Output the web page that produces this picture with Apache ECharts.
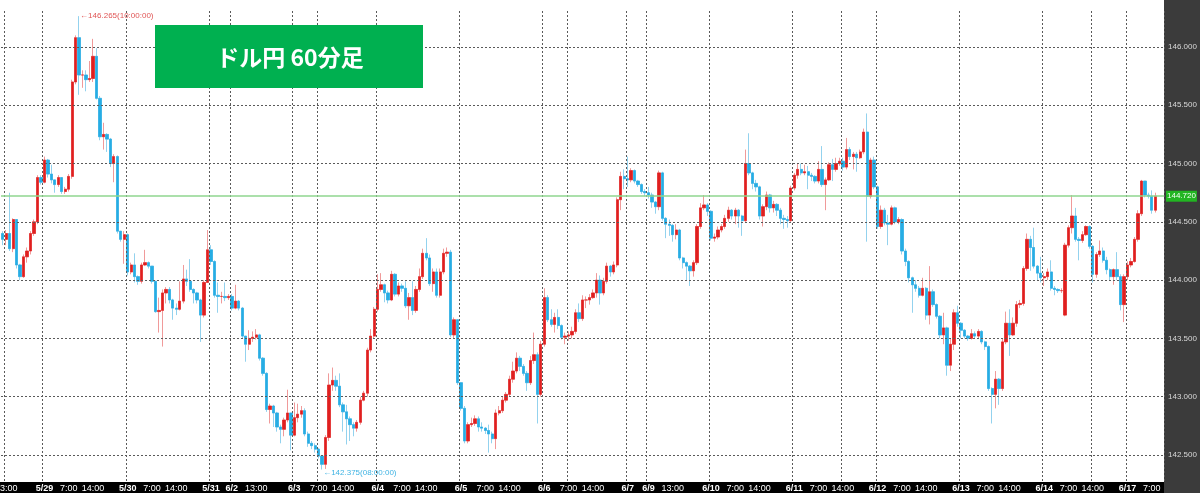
<!DOCTYPE html>
<html>
<head>
<meta charset="utf-8">
<style>html,body{margin:0;padding:0;background:#fff}#c{width:1200px;height:493px}</style>
<script src="https://cdn.jsdelivr.net/npm/echarts/dist/echarts.min.js"></script>
</head>
<body>
<div id="c"></div>
<script>
// ---- data (USD/JPY 60-minute candles) ----
const firstOpen = 144.40;
const openGaps = {306: 143.70};
const closes = [
144.35,144.40,144.27,144.52,144.13,144.03,144.20,144.25,144.40,144.50,144.88,144.84,
145.03,144.91,144.86,144.82,144.88,144.76,144.78,144.89,145.70,146.08,145.76,145.76,
145.72,145.73,145.92,145.56,145.23,145.25,145.21,145.00,145.06,144.42,144.35,144.39,
144.07,144.13,144.03,143.99,144.13,144.15,144.12,143.99,143.73,143.74,143.89,143.92,
143.83,143.76,143.75,143.82,144.01,143.99,143.92,143.89,143.83,143.70,143.98,144.26,
144.16,143.87,143.86,143.86,143.85,143.86,143.76,143.82,143.76,143.52,143.45,143.50,
143.51,143.53,143.33,143.20,142.89,142.92,142.86,142.74,142.72,142.80,142.86,142.67,
142.82,142.85,142.88,142.68,142.60,142.58,142.55,142.49,142.42,142.65,143.10,143.14,
143.09,142.93,142.87,142.81,142.76,142.73,142.78,142.97,143.03,143.40,143.52,143.75,
143.92,143.96,143.89,143.83,144.05,143.88,143.95,143.93,143.78,143.85,143.74,143.92,
144.03,144.23,144.19,143.97,144.07,143.87,144.07,144.23,144.24,143.53,143.66,143.12,
142.90,142.62,142.76,142.77,142.81,142.74,142.73,142.71,142.68,142.64,142.86,142.88,
142.97,143.02,143.15,143.22,143.33,143.26,143.20,143.12,143.31,143.36,143.02,143.45,
143.85,143.66,143.62,143.68,143.61,143.51,143.52,143.53,143.56,143.72,143.67,143.83,
143.83,143.85,143.89,144.00,143.89,143.99,144.12,144.07,144.13,144.69,144.89,144.87,
144.86,144.94,144.85,144.82,144.76,144.75,144.73,144.67,144.63,144.92,144.53,144.48,
144.47,144.39,144.43,144.19,144.15,144.12,144.08,144.15,144.46,144.62,144.645,144.59,
144.36,144.37,144.43,144.46,144.53,144.60,144.55,144.60,144.55,144.51,145.00,144.92,
144.83,144.80,144.55,144.63,144.73,144.62,144.65,144.60,144.53,144.52,144.51,144.79,
144.90,144.95,144.92,144.93,144.90,144.89,144.85,144.95,144.82,144.86,144.99,144.95,
145.00,145.02,144.97,145.12,145.06,145.08,145.05,145.10,145.27,144.72,145.03,144.80,
144.46,144.60,144.49,144.48,144.62,144.50,144.52,144.25,144.16,144.02,143.96,143.93,
143.87,143.93,143.70,143.90,143.79,143.69,143.53,143.59,143.27,143.45,143.72,143.63,
143.57,143.52,143.50,143.54,143.52,143.56,143.47,143.43,143.07,143.02,143.15,143.07,
143.47,143.63,143.53,143.63,143.79,143.80,144.10,144.35,144.28,144.12,144.06,144.02,
144.03,144.07,143.93,143.92,143.91,143.91,144.30,144.45,144.55,144.35,144.34,144.39,
144.46,144.29,144.05,144.22,144.25,144.17,144.09,144.03,144.09,144.03,143.79,144.03,
144.13,144.16,144.35,144.57,144.85,144.73,144.72,144.60,144.72
];
const highs = [
144.42,144.43,144.75,144.53,144.52,144.14,144.22,144.28,144.42,144.52,144.90,144.90,
145.06,145.04,144.99,144.85,144.90,144.88,144.80,144.91,145.72,146.10,146.265,145.80,
145.80,145.88,146.07,145.99,145.58,145.35,145.26,145.22,145.08,145.07,144.42,144.42,
144.40,144.15,144.23,144.04,144.15,144.26,144.16,144.12,143.99,143.85,143.92,143.94,
143.94,143.84,143.80,143.99,144.13,144.09,144.18,143.93,143.90,143.84,144.00,144.43,
144.30,144.17,143.98,143.90,143.98,143.88,143.88,143.96,143.83,143.77,143.52,143.57,
143.56,143.58,143.54,143.34,143.21,142.94,142.93,142.87,142.76,142.82,143.06,142.86,
142.95,142.94,142.92,142.90,142.70,142.62,142.60,142.56,142.50,142.67,143.20,143.25,
143.18,143.20,142.95,142.93,142.83,142.78,142.80,143.00,143.05,143.42,143.58,143.77,
144.05,144.06,143.97,143.91,144.08,144.06,143.98,143.97,143.99,143.89,143.99,143.95,
144.10,144.27,144.36,144.22,144.10,144.10,144.10,144.27,144.28,144.26,143.68,143.66,
143.12,142.92,142.78,142.82,142.84,142.83,142.78,142.74,142.76,142.70,142.89,142.92,
143.00,143.04,143.18,143.30,143.38,143.35,143.28,143.22,143.35,143.55,143.38,143.48,
143.93,143.87,143.75,143.72,143.75,143.62,143.55,143.56,143.60,143.75,143.80,143.87,
143.86,143.88,143.92,144.06,144.04,144.02,144.15,144.13,144.16,144.71,144.93,144.95,
145.06,144.96,144.95,144.86,144.83,144.78,144.80,144.75,144.68,144.94,144.93,144.54,
144.52,144.48,144.48,144.44,144.20,144.16,144.13,144.17,144.48,144.66,144.73,144.66,
144.60,144.40,144.46,144.48,144.56,144.63,144.61,144.62,144.61,144.56,145.12,145.26,
144.93,144.86,144.81,144.65,144.76,144.74,144.68,144.66,144.62,144.56,144.55,144.81,
144.92,145.00,145.00,144.99,144.98,144.92,144.90,145.02,145.15,144.88,145.01,145.04,
145.05,145.05,145.05,145.22,145.14,145.10,145.10,145.12,145.30,145.43,145.05,145.06,
144.81,144.64,144.62,144.56,144.64,144.63,144.54,144.53,144.27,144.17,144.03,144.00,
143.95,144.02,143.94,144.12,143.92,143.80,143.70,143.72,143.60,143.50,143.75,143.78,
143.64,143.58,143.53,143.58,143.56,143.58,143.57,143.48,143.44,143.08,143.22,143.16,
143.50,143.73,143.75,143.68,143.82,143.83,144.12,144.40,144.38,144.45,144.13,144.20,
144.06,144.10,144.17,143.95,143.93,143.93,144.32,144.47,144.73,144.62,144.37,144.42,
144.47,144.47,144.30,144.24,144.34,144.28,144.20,144.10,144.10,144.24,144.05,144.05,
144.16,144.19,144.37,144.60,144.86,144.85,144.75,144.77,144.75
];
const lows = [
144.30,144.30,144.25,144.24,144.10,144.00,144.02,144.15,144.22,144.38,144.48,144.82,
144.83,144.88,144.83,144.75,144.80,144.74,144.74,144.76,144.87,145.68,145.59,145.65,
145.62,145.70,145.70,145.55,145.20,145.12,145.10,144.97,144.84,144.40,144.33,144.14,
144.04,144.05,143.98,143.96,143.97,144.12,144.10,143.97,143.72,143.55,143.43,143.80,
143.80,143.66,143.70,143.74,143.80,143.95,143.90,143.80,143.80,143.47,143.68,143.98,
144.13,143.85,143.72,143.80,143.82,143.83,143.74,143.75,143.74,143.50,143.30,143.40,
143.47,143.49,143.31,143.18,142.87,142.77,142.74,142.70,142.60,142.66,142.78,142.54,
142.66,142.78,142.82,142.66,142.57,142.55,142.52,142.47,142.375,142.38,142.62,143.05,
143.05,142.91,142.70,142.59,142.62,142.66,142.70,142.76,142.96,143.00,143.38,143.50,
143.73,143.90,143.81,143.80,143.82,143.86,143.86,143.90,143.76,143.66,143.70,143.72,
143.90,144.01,144.17,143.95,143.90,143.85,143.85,144.05,144.20,143.51,143.50,143.10,
142.88,142.60,142.60,142.74,142.75,142.70,142.70,142.68,142.52,142.60,142.55,142.84,
142.86,142.95,143.00,143.12,143.20,143.22,143.18,143.05,143.10,143.28,142.77,143.00,
143.43,143.64,143.60,143.55,143.58,143.49,143.45,143.48,143.50,143.54,143.64,143.65,
143.76,143.79,143.84,143.85,143.79,143.87,143.97,144.03,144.05,144.11,144.60,144.78,
144.80,144.84,144.83,144.80,144.74,144.72,144.70,144.62,144.57,144.60,144.51,144.36,
144.38,144.33,144.35,144.17,144.10,144.00,143.95,144.03,144.13,144.44,144.60,144.55,
144.34,144.33,144.35,144.41,144.44,144.50,144.52,144.48,144.45,144.38,144.50,144.90,
144.78,144.76,144.52,144.46,144.60,144.58,144.58,144.55,144.48,144.44,144.45,144.50,
144.77,144.87,144.90,144.90,144.78,144.85,144.83,144.83,144.80,144.60,144.85,144.85,
144.93,144.98,144.94,144.95,145.03,144.95,144.93,145.04,145.08,144.33,144.70,144.78,
144.44,144.44,144.47,144.30,144.47,144.48,144.48,144.22,144.12,143.98,143.72,143.90,
143.85,143.86,143.66,143.62,143.77,143.67,143.50,143.45,143.18,143.22,143.40,143.60,
143.50,143.50,143.48,143.49,143.50,143.50,143.45,143.40,143.05,142.77,142.90,142.93,
143.05,143.45,143.35,143.52,143.60,143.76,143.78,144.08,144.08,144.10,144.00,143.98,
143.95,144.00,143.91,143.87,143.89,143.89,143.69,144.28,144.40,144.33,144.17,144.32,
144.38,144.27,143.98,144.02,144.20,144.15,144.05,144.00,143.96,144.00,143.74,143.64,
144.00,144.11,144.15,144.33,144.55,144.71,144.70,144.57,144.58
];
const totalSlots = 335;
const labelIdx = [1,12,19,26,36,43,50,60,66,73,84,91,98,108,115,122,132,139,146,156,163,170,180,186,193,204,211,218,228,235,242,252,259,266,276,283,290,300,307,314,324,331];
const labelText = ['13:00','5/29','7:00','14:00','5/30','7:00','14:00','5/31','6/2','13:00','6/3','7:00','14:00','6/4','7:00','14:00','6/5','7:00','14:00','6/6','7:00','14:00','6/7','6/9','13:00','6/10','7:00','14:00','6/11','7:00','14:00','6/12','7:00','14:00','6/13','7:00','14:00','6/14','7:00','14:00','6/17','7:00'];
const gridIdx = [1,12,36,60,66,84,91,108,132,156,163,180,186,204,228,242,252,276,300,314,324];
const yTicks = [142.5,143.0,143.5,144.0,144.5,145.0,145.5,146.0];
const yMin = 142.268, yMax = 146.309;
const lastPrice = 144.720;
const hiNote = {idx: 22, value: 146.265, text: '←146.265(10:00:00)'};
const loNote = {idx: 92, value: 142.375, text: '←142.375(08:00:00)'};
const titleText = 'ドル円 60分足';

// ---- build ----
const cats = Array.from({length: totalSlots}, (_, i) => String(i));
const labelMap = {};
labelIdx.forEach((k, j) => { labelMap[k] = labelText[j]; });
const gridSet = new Set(gridIdx);
const wickData = [], bodyData = [];
for (let i = 0; i < closes.length; i++) {
  const o = openGaps[i] !== undefined ? openGaps[i] : (i === 0 ? firstOpen : closes[i - 1]);
  const c = closes[i];
  wickData.push([o, c, lows[i], highs[i]]);
  bodyData.push([o, c, Math.min(o, c), Math.max(o, c)]);
}
const UP = '#e01f1f', DOWN = '#26ade4', UPW = '#f09a9a', DOWNW = '#93d2ee';
const NARROW = "'Liberation Sans Narrow','Arial Narrow','Liberation Sans',Arial,sans-serif";
const dotted = {color: '#5a5a5a', width: 1, type: [2, 2]};

const chart = echarts.init(document.getElementById('c'), null, {renderer: 'canvas'});
chart.setOption({
  animation: false,
  backgroundColor: '#ffffff',
  grid: {left: 1, right: 36, top: 11, bottom: 11, containLabel: false, outerBoundsMode: 'none'},
  xAxis: {
    type: 'category', data: cats, boundaryGap: true, z: 5,
    axisLine: {show: false}, axisTick: {show: false},
    axisLabel: {
      interval: (i) => labelMap[i] !== undefined,
      margin: 2,
      formatter: (v) => { const t = labelMap[Number(v)]; if (!t) return ''; return t.indexOf('/') >= 0 ? '{d|' + t + '}' : '{t|' + t + '}'; },
      rich: {
        d: {color: '#fff', fontWeight: 'bold', fontSize: 9, fontFamily: NARROW, lineHeight: 10},
        t: {color: '#fff', fontSize: 9, fontFamily: NARROW, lineHeight: 10}
      }
    },
    splitLine: {show: true, interval: (i) => gridSet.has(i), lineStyle: dotted}
  },
  yAxis: {
    type: 'value', position: 'right', min: yMin, max: yMax, z: 5, scale: true,
    axisLine: {show: false},
    axisTick: {show: false, customValues: yTicks},
    axisLabel: {customValues: yTicks, formatter: (v) => Number(v).toFixed(3), color: '#d8d8d8', fontSize: 8, fontFamily: NARROW, margin: 4},
    splitLine: {show: true, lineStyle: dotted}
  },
  graphic: [
    {type: 'rect', z: 1, silent: true, shape: {x: 1164, y: 0, width: 36, height: 493}, style: {fill: '#3b3b3b'}},
    {type: 'rect', z: 1, silent: true, shape: {x: 0, y: 482, width: 1164, height: 11}, style: {fill: '#000'}},
    {type: 'rect', z: 100, silent: true, shape: {x: 155, y: 25, width: 268, height: 63}, style: {fill: '#00b050'}},
    {type: 'text', z: 101, silent: true, x: 290, y: 57, style: {text: titleText, fill: '#fff', font: "bold 23px 'Noto Sans CJK JP', sans-serif", textAlign: 'center', textVerticalAlign: 'middle'}}
  ],
  series: [
    {
      name: 'wick', type: 'candlestick', data: wickData, barWidth: 2.8, z: 2, silent: true,
      itemStyle: {color: UPW, color0: DOWNW, borderColor: UPW, borderColor0: DOWNW, borderWidth: 1},
      markLine: {
        silent: true, symbol: 'none', animation: false,
        data: [
          {yAxis: yMax, lineStyle: dotted, label: {show: false}},
          {yAxis: lastPrice, lineStyle: {color: '#8fd68f', width: 1.5, type: 'solid'},
           label: {show: true, position: 'end', distance: 2, formatter: lastPrice.toFixed(3), color: '#f0fff0', backgroundColor: '#22b522', padding: [2, 1, 1, 1], fontSize: 8, fontFamily: NARROW}}
        ]
      },
      markPoint: {
        silent: true, symbol: 'circle', symbolSize: 0, animation: false,
        data: [
          {coord: [hiNote.idx, hiNote.value], label: {show: true, position: 'right', distance: 1, formatter: hiNote.text, color: '#e05555', fontSize: 8, fontFamily: NARROW}},
          {coord: [loNote.idx, loNote.value], label: {show: true, position: 'right', distance: 1, offset: [0, 3], formatter: loNote.text, color: '#3fb3e3', fontSize: 8, fontFamily: NARROW}}
        ]
      }
    },
    {
      name: 'body', type: 'candlestick', data: bodyData, barWidth: 2.8, z: 3, silent: true,
      itemStyle: {color: UP, color0: DOWN, borderColor: UP, borderColor0: DOWN, borderWidth: 0.5}
    }
  ]
});
</script>
</body>
</html>
